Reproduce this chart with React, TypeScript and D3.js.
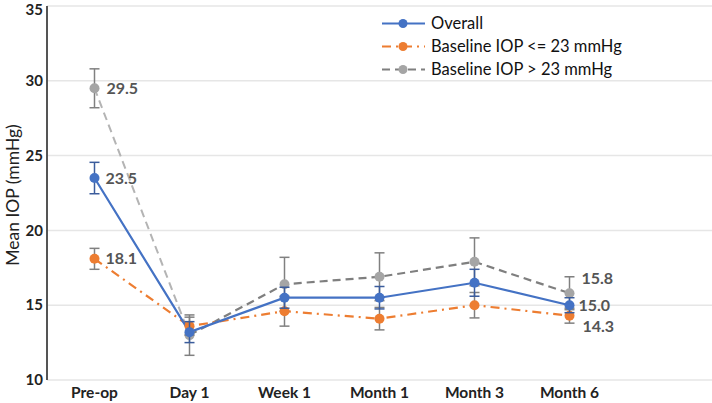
import React from "react";
import * as d3 from "d3";

const categories = ["Pre-op", "Day 1", "Week 1", "Month 1", "Month 3", "Month 6", ""];
const yTicks = [10, 15, 20, 25, 30, 35];

const overall = [23.5, 13.2, 15.5, 15.5, 16.5, 15.0];
const overallErr = [1.05, 0.7, 0.7, 0.75, 0.9, 0.5];
const low = [18.1, 13.6, 14.6, 14.1, 15.0, 14.3];
const lowErr = [0.7, 0.6, 1.0, 0.75, 0.85, 0.5];
const high = [29.5, 13.0, 16.4, 16.9, 17.9, 15.8];
const highErr = [1.3, 1.35, 1.8, 1.6, 1.6, 1.1];

const seriesNames = ["Overall", "Baseline IOP <= 23 mmHg", "Baseline IOP > 23 mmHg"];

// labels: [series index, point index, text]
const labelSeries = [2, 0, 1, 2, 0, 1];
const labelPoints = [0, 0, 0, 5, 5, 5];
const labelTexts = ["29.5", "23.5", "18.1", "15.8", "15.0", "14.3"];

export default function App() {
  const W = 712, H = 403;
  const left = 47, right = 712, top = 6, bottom = 380;
  const x = d3.scaleBand<string>().domain(categories.map((c, i) => c + "#" + i)).range([left, right]);
  const xc = (i: number) => (x(categories[i] + "#" + i) as number) + x.bandwidth() / 2;
  const y = d3.scaleLinear().domain([10, 35]).range([bottom, top]);
  const font = "Lato, 'Open Sans', sans-serif";

  const series = [
    { v: overall, e: overallErr, color: "#4472C4", line: "#4472C4", dash: "", errColor: "#3b5c9c" },
    { v: low, e: lowErr, color: "#ED7D31", line: "#ED7D31", dash: "9 5 2 5", errColor: "#808080" },
    { v: high, e: highErr, color: "#A5A5A5", line: "#7f7f7f", dash: "8 5", errColor: "#808080" },
  ];
  const lineGen = d3.line<number>().x((_, i) => xc(i)).y((d) => y(d));
  const drawOrder = [2, 1, 0];
  const labelDx = [12, 11, 11, 12, 9, 13];
  const labelDy = [0, 0, 0, -15, 0, 11];

  return (
    <svg width={W} height={H} style={{ position: "absolute", left: 0, top: 0, background: "#fff" }} fontFamily={font}>
      {yTicks.map((t) => (
        <g key={t}>
          <line x1={left} x2={right} y1={y(t)} y2={y(t)} stroke="#e6e6e6" strokeWidth={1.5} />
          <text x={43} y={Math.max(y(t), 10)} dy="0.35em" textAnchor="end" fontSize={15} fontWeight={700} fill="#222">{t}</text>
        </g>
      ))}
      <line x1={left} x2={left} y1={top} y2={bottom} stroke="#555" strokeWidth={2} />
      {categories.map((c, i) => c ? (
        <text key={i} x={xc(i)} y={398} textAnchor="middle" fontSize={15.5} fontWeight={700} fill="#222">{c}</text>
      ) : null)}
      <text transform={`translate(13,${(top + bottom) / 2 + 2}) rotate(-90)`} textAnchor="middle" dy="0.35em" fontSize={17.5} fill="#222">Mean IOP (mmHg)</text>

      {drawOrder.map((si) => {
        const s = series[si];
        return (
          <g key={"l" + si}>
            {si === 2 ? (
              <>
                <path d={lineGen(s.v.slice(0, 2)) || ""} fill="none" stroke="#b4b4b4" strokeWidth={2} strokeDasharray={s.dash} />
                <path d={d3.line<number>().x((_, i) => xc(i + 1)).y((d) => y(d))(s.v.slice(1)) || ""} fill="none" stroke={s.line} strokeWidth={2.2} strokeDasharray={s.dash} />
              </>
            ) : (
              <path d={lineGen(s.v) || ""} fill="none" stroke={s.line} strokeWidth={2.2} strokeDasharray={s.dash || undefined} />
            )}
          </g>
        );
      })}
      {drawOrder.map((si) => {
        const s = series[si];
        return (
          <g key={"m" + si}>
            {s.v.map((v, i) => (
              <g key={i}>
                <line x1={xc(i)} x2={xc(i)} y1={y(v - s.e[i])} y2={y(v + s.e[i])} stroke={s.errColor} strokeWidth={1.5} />
                <line x1={xc(i) - 5} x2={xc(i) + 5} y1={y(v - s.e[i])} y2={y(v - s.e[i])} stroke={s.errColor} strokeWidth={1.5} />
                <line x1={xc(i) - 5} x2={xc(i) + 5} y1={y(v + s.e[i])} y2={y(v + s.e[i])} stroke={s.errColor} strokeWidth={1.5} />
                <circle cx={xc(i)} cy={y(v)} r={5} fill={s.color} />
              </g>
            ))}
          </g>
        );
      })}
      {labelTexts.map((t, k) => {
        const s = series[labelSeries[k]];
        const p = labelPoints[k];
        const v = s.v[p];
        return (
          <text key={k} x={xc(p) + labelDx[k]} y={y(v) + labelDy[k]} dy="0.35em" fontSize={16} fontWeight={700} fill="#555">{t}</text>
        );
      })}

      <rect x={378} y={10} width={250} height={68} fill="#fff" />
      {series.map((s, i) => {
        const cy = 23.5 + i * 23;
        return (
          <g key={"lg" + i}>
            <line x1={382} x2={425} y1={cy} y2={cy} stroke={s.line} strokeWidth={2} strokeDasharray={s.dash || undefined} />
            <circle cx={403} cy={cy} r={4.5} fill={s.color} />
            <text x={431} y={cy} dy="0.35em" fontSize={16.5} fontWeight={400} fill="#111">{seriesNames[i]}</text>
          </g>
        );
      })}
    </svg>
  );
}
